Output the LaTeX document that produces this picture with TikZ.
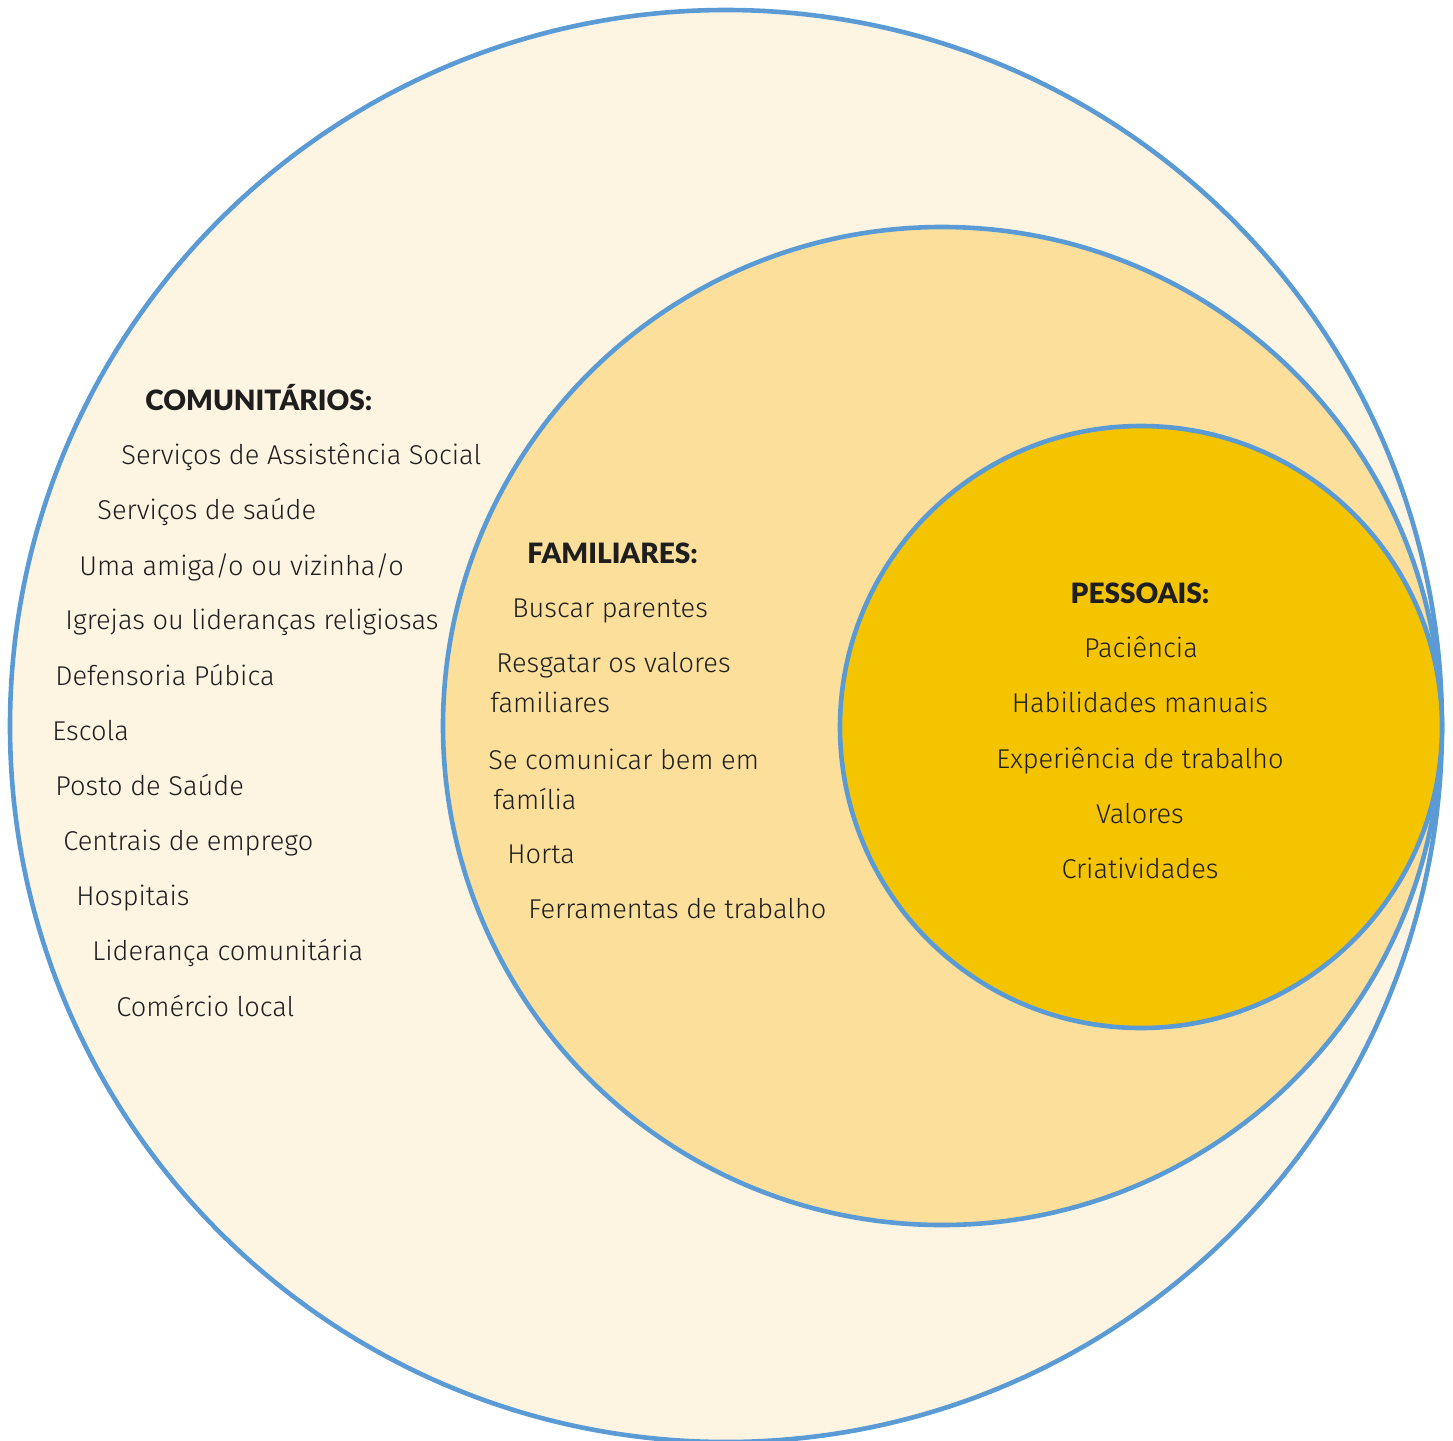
\documentclass[tikz,border=0pt]{standalone}
\usepackage{fontspec}
\setmainfont{Fira Sans}[UprightFont=* Light]
\newfontfamily\headfont{Lato}[UprightFont=* Black]
\definecolor{ring}{HTML}{5A9BD5}
\definecolor{outerfill}{HTML}{FEF4E2}
\definecolor{midfill}{HTML}{FBDF9A}
\definecolor{innerfill}{HTML}{F5C400}
\definecolor{ink}{HTML}{1E1E1E}
\begin{document}
\begin{tikzpicture}[x=0.5pt,y=-0.5pt,
  ringstyle/.style={draw=ring,line width=2.3pt},
  item/.style={font=\fontsize{13.6pt}{15pt}\selectfont,text=ink,inner sep=0pt,anchor=base west},
  citem/.style={item,anchor=base},
  head/.style={font=\fontsize{14pt}{15pt}\headfont,text=ink,inner sep=0pt,anchor=base west},
  chead/.style={head,anchor=base}]
\useasboundingbox (0,0) rectangle (1453,1441);
\path[ringstyle,fill=outerfill] (726,726) circle[radius=358pt];
\path[ringstyle,fill=midfill] (942,726) circle[radius=249.5pt];
\path[ringstyle,fill=innerfill] (1141,727) circle[radius=150.5pt];

\node[head] (ch) at (145,410) {COMUNITÁRIOS:};
\node[item] (c1) at (121,464) {Serviços de Assistência Social};
\node[item] (c2) at (97,519) {Serviços de saúde};
\node[item] (c3) at (79,575) {Uma amiga/o ou vizinha/o};
\node[item] (c4) at (65,629) {Igrejas ou lideranças religiosas};
\node[item] (c5) at (55,685) {Defensoria Púbica};
\node[item] (c6) at (52,740) {Escola};
\node[item] (c7) at (55,795) {Posto de Saúde};
\node[item] (c8) at (63,850) {Centrais de emprego};
\node[item] (c9) at (76,905) {Hospitais};
\node[item] (c10) at (92,960) {Liderança comunitária};
\node[item] (c11) at (116,1016) {Comércio local};

\node[head] (fh) at (527,563) {FAMILIARES:};
\node[item] (f1) at (512,617) {Buscar parentes};
\node[item] (f2) at (496,672) {Resgatar os valores};
\node[item] (f2b) at (490,712) {familiares};
\node[item] (f3) at (488,769) {Se comunicar bem em};
\node[item] (f3b) at (493,809) {família};
\node[item] (f4) at (507,863) {Horta};
\node[item] (f5) at (528,918) {Ferramentas de trabalho};

\node[chead] (ph) at (1140,603) {PESSOAIS:};
\node[citem] (p1) at (1141,657) {Paciência};
\node[citem] (p2) at (1140,712) {Habilidades manuais};
\node[citem] (p3) at (1140,768) {Experiência de trabalho};
\node[citem] (p4) at (1140,823) {Valores};
\node[citem] (p5) at (1140,878) {Criatividades};
\end{tikzpicture}
\end{document}
